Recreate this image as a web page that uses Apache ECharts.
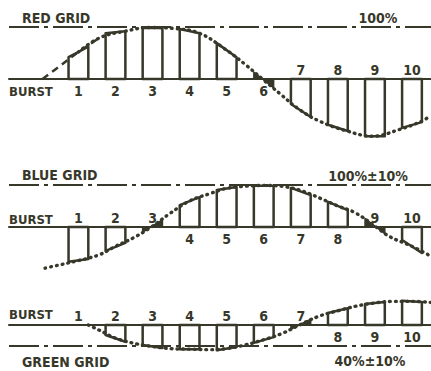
<!DOCTYPE html>
<html>
<head>
<meta charset="utf-8">
<script src="https://cdn.jsdelivr.net/npm/echarts@6/dist/echarts.min.js"></script>
<style>
  html, body { margin: 0; padding: 0; background: #fff; }
  #chart { width: 431px; height: 371px; }
</style>
</head>
<body>
<div id="chart"></div>
<script>
// burst samples: number and subcarrier phase (deg) of each sample window
const sampleNames = ['1', '2', '3', '4', '5', '6', '7', '8', '9', '10'];
const samplePhase = [30, 60, 90, 120, 150, 180, 210, 240, 270, 300];

// height of each sample bar (% of grid) at its left and right edge
const redLeft = [42, 88, 98, 96, 69, 13, -48, -88, -110, -94];
const redRight = [62, 92, 98, 88, 42, -17, -73, -100, -110, -83];
const blueLeft = [-83, -57, -12, 52, 88, 98, 93, 60, 20, -31];
const blueRight = [-76, -38, 17, 71, 95, 98, 76, 40, -16, -62];
const greenLeft = [null, -19, -38, -46, -48, -34, -8, 23, 40, 46];
const greenRight = [null, -32, -44, -46, -42, -23, 11, 32, 44, 44];

// which side of the burst line the sample number sits
const redNumberSide = ['below', 'below', 'below', 'below', 'below', 'below', 'above', 'above', 'above', 'above'];
const blueNumberSide = ['above', 'above', 'above', 'below', 'below', 'below', 'below', 'below', 'above', 'above'];
const greenNumberSide = ['above', 'above', 'above', 'above', 'above', 'above', 'above', 'below', 'below', 'below'];

// dotted envelope of each grid signal: [phase deg, %]
const redCurve = [[1, 0], [15, 25], [30, 52], [47, 79], [68, 92], [88, 99], [108, 97], [128, 88],
  [149, 57], [165, 28], [179, 0], [193, -28], [209, -59], [226, -82], [246, -99], [268, -110],
  [290, -97], [307, -82], [315, -71]];
const blueCurve = [[3, -98], [15, -90], [30, -80], [47, -66], [60, -46], [75, -25], [89, 0],
  [104, 32], [120, 62], [137, 80], [150, 92], [165, 97], [181, 99], [197, 96], [212, 85],
  [226, 68], [240, 50], [254, 34], [271, 0], [282, -23], [300, -46], [315, -69]];
const greenCurve = [[38, 0], [47, -10], [60, -25], [77, -36], [90, -41], [105, -45], [120, -46],
  [135, -47], [150, -45], [165, -38], [180, -28], [195, -16], [209, 0], [225, 17], [240, 27],
  [255, 36], [270, 42], [285, 45], [300, 45], [315, 43]];

// grid reference levels and their captions
const gridLevels = [100, 100, -40];
const gridNames = ['RED GRID', 'BLUE GRID', 'GREEN GRID'];
const gridTolerances = ['100%', '100%±10%', '40%±10%'];

const INK = '#37372a';
const FONT_FAMILY = "'DejaVu Sans Condensed', 'DejaVu Sans', sans-serif";
const X_MIN = -26.2, X_MAX = 315.4;
const HALF_WINDOW = 8;

// baseline pixel row, px per %, and y range of each panel
const panels = [
  { base: 79, scale: 0.52, yMin: -140, yMax: 150, name: [22, 18], tol: [378, 18], burst: 12 },
  { base: 227, scale: 0.42, yMin: -150, yMax: 140, name: [22, 175], tol: [368, 176], burst: -8 },
  { base: 325, scale: 0.525, yMin: -85, yMax: 100, name: [22, 362], tol: [370, 361], burst: -11 }
];

const bars = [
  { left: redLeft, right: redRight, side: redNumberSide, curve: redCurve },
  { left: blueLeft, right: blueRight, side: blueNumberSide, curve: blueCurve },
  { left: greenLeft, right: greenRight, side: greenNumberSide, curve: greenCurve }
];

const chart = echarts.init(document.getElementById('chart'), null, { renderer: 'svg' });

const grid = panels.map(p => ({
  left: 9,
  right: 0,
  top: p.base - p.yMax * p.scale,
  height: (p.yMax - p.yMin) * p.scale,
  outerBoundsMode: 'none'
}));

const xAxis = panels.map((p, i) => ({
  type: 'value',
  gridIndex: i,
  min: X_MIN,
  max: X_MAX,
  axisLine: { show: true, onZero: true, lineStyle: { color: INK, width: 2 } },
  axisTick: { show: false },
  axisLabel: { show: false },
  splitLine: { show: false }
}));

const yAxis = panels.map((p, i) => ({
  type: 'value',
  gridIndex: i,
  min: p.yMin,
  max: p.yMax,
  show: false,
  splitLine: { show: false }
}));

const dotStyle = { color: INK, width: 3.4, type: [0.8, 5], cap: 'round' };

const series = [];
bars.forEach((b, i) => {
  // dotted envelope plus the grid reference line
  const curveData = i === 0 ? b.curve.slice(2) : b.curve;
  series.push({
    type: 'line',
    xAxisIndex: i,
    yAxisIndex: i,
    data: curveData,
    smooth: 0.4,
    symbol: 'none',
    silent: true,
    lineStyle: dotStyle,
    markLine: {
      symbol: 'none',
      silent: true,
      label: { show: false },
      lineStyle: { color: INK, width: 2, type: [30, 5, 4, 5] },
      data: [{ yAxis: gridLevels[i] }]
    }
  });
  if (i === 0) {
    // red envelope starts as a dashed line
    series.push({
      type: 'line',
      xAxisIndex: 0,
      yAxisIndex: 0,
      data: b.curve.slice(0, 4),
      smooth: 0.4,
      symbol: 'none',
      silent: true,
      lineStyle: { color: INK, width: 2.5, type: [7, 5] }
    });
  }
  // sample bars with their numbers
  series.push({
    type: 'custom',
    xAxisIndex: i,
    yAxisIndex: i,
    silent: true,
    data: samplePhase.map((ph, k) => [ph, b.left[k], b.right[k]]),
    renderItem: function (params, api) {
      const k = params.dataIndex;
      const ph = samplePhase[k];
      const yl = b.left[k], yr = b.right[k];
      const children = [];
      const base = api.coord([ph, 0]);
      if (yl !== null && yr !== null) {
        const a0 = api.coord([ph - HALF_WINDOW, 0]);
        const a1 = api.coord([ph + HALF_WINDOW, 0]);
        const t0 = api.coord([ph - HALF_WINDOW, yl]);
        const t1 = api.coord([ph + HALF_WINDOW, yr]);
        if (yl * yr < 0) {
          // window straddles the zero crossing: two solid wedges
          const xc = a0[0] + (a1[0] - a0[0]) * yl / (yl - yr);
          children.push({
            type: 'polygon',
            shape: { points: [[a0[0], a0[1]], [t0[0], t0[1]], [xc, a0[1]]] },
            style: { fill: INK, stroke: INK, lineWidth: 1.5 }
          });
          children.push({
            type: 'polygon',
            shape: { points: [[xc, a1[1]], [t1[0], t1[1]], [a1[0], a1[1]]] },
            style: { fill: INK, stroke: INK, lineWidth: 1.5 }
          });
        } else {
          children.push({
            type: 'polygon',
            shape: { points: [[a0[0], a0[1]], [t0[0], t0[1]], [t1[0], t1[1]], [a1[0], a1[1]]] },
            style: { fill: '#fff', stroke: INK, lineWidth: 2.5, lineJoin: 'round' }
          });
        }
      }
      const dy = b.side[k] === 'below' ? 12 : -9;
      children.push({
        type: 'text',
        x: base[0],
        y: base[1] + dy,
        style: {
          text: sampleNames[k],
          fill: INK,
          font: 'bold 14px ' + FONT_FAMILY,
          align: 'center',
          verticalAlign: 'middle'
        }
      });
      return { type: 'group', children: children };
    }
  });
});

// captions: grid names, tolerances and BURST
const graphic = [];
panels.forEach((p, i) => {
  graphic.push({
    type: 'text', x: p.name[0], y: p.name[1], silent: true,
    style: { text: gridNames[i], fill: INK, font: 'bold 14px ' + FONT_FAMILY, align: 'left', verticalAlign: 'middle' }
  });
  graphic.push({
    type: 'text', x: p.tol[0], y: p.tol[1], silent: true,
    style: { text: gridTolerances[i], fill: INK, font: 'bold 14px ' + FONT_FAMILY, align: 'center', verticalAlign: 'middle' }
  });
  graphic.push({
    type: 'text', x: 9, y: p.base + p.burst, silent: true,
    style: { text: 'BURST', fill: INK, font: 'bold 13px ' + FONT_FAMILY, align: 'left', verticalAlign: 'middle' }
  });
});

chart.setOption({
  backgroundColor: '#fff',
  animation: false,
  grid: grid,
  xAxis: xAxis,
  yAxis: yAxis,
  series: series,
  graphic: graphic
});
</script>
</body>
</html>
